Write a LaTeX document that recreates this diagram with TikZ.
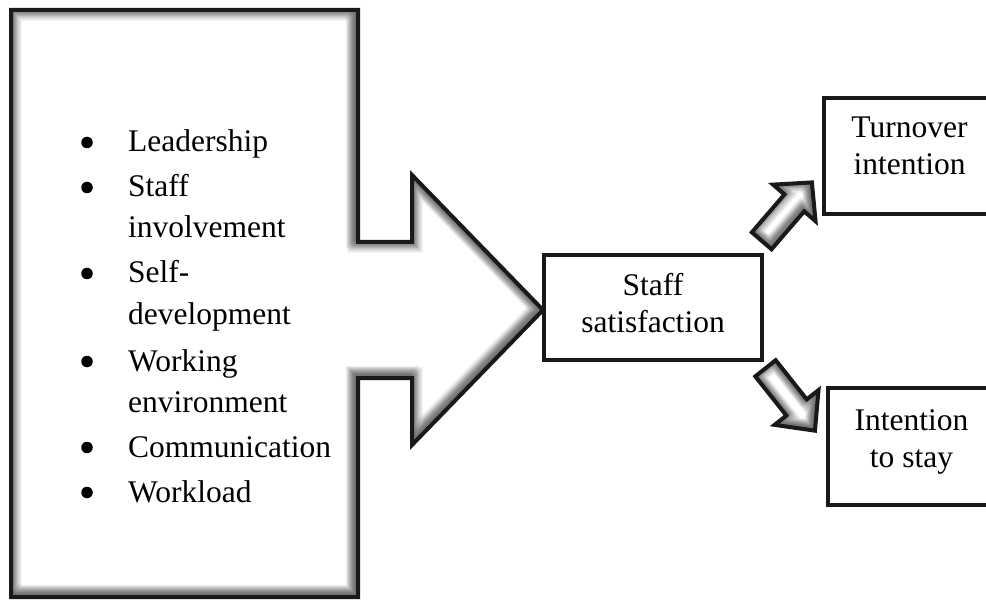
\documentclass[tikz,border=0pt]{standalone}
\usepackage{fontspec}
\setmainfont{Liberation Serif}
\usetikzlibrary{calc}

% Block arrow with a bevelled (inner-shadow) fill.
% #1 tail coordinate, #2 direction angle, #3 total length to the tip
\newcommand\bevelarrow[3]{%
  \path[save path=\arrowpath]
    ($(#1)+(#2+90:13)$) -- ($(#1)+(#2:50)+(#2+90:13)$)
    -- ($(#1)+(#2:50)+(#2+90:28)$) -- ($(#1)+(#2:#3)$)
    -- ($(#1)+(#2:50)+(#2-90:28)$) -- ($(#1)+(#2:50)+(#2-90:13)$)
    -- ($(#1)+(#2-90:13)$) -- cycle;
  \fill[white, use path=\arrowpath];
  \begin{scope}
    \clip[use path=\arrowpath];
    \foreach \w in {4,7,...,19}
      \draw[black, opacity=0.07, line width=\w pt, use path=\arrowpath];
    \begin{scope}[transform canvas={xshift=-3pt,yshift=3pt}]
      \foreach \w in {4,7,...,16}
        \draw[black, opacity=0.07, line width=\w pt, use path=\arrowpath];
    \end{scope}
  \end{scope}
  \draw[edge, use path=\arrowpath];
}

\begin{document}
\begin{tikzpicture}[x=1pt, y=-1pt,
  edge/.style={draw=black!90, line width=4pt, line join=miter},
  box/.style={edge, fill=white, rectangle, inner sep=0pt},
  txt/.style={font=\fontsize{31.5}{37}\selectfont, inner sep=0pt},
  dot/.style={circle, fill=black, inner sep=0pt, minimum size=11.5pt},
]
\useasboundingbox (0,0) rectangle (986,604);

% Factor panel merged with the large arrow
\path[save path=\bigshape]
  (11,10) -- (358,10) -- (358,242) -- (412,242) -- (412,175)
  -- (543,310) -- (412,445) -- (412,378) -- (358,378)
  -- (358,597) -- (11,597) -- cycle;
\fill[white, use path=\bigshape];
\begin{scope}
  \clip[use path=\bigshape];
  \foreach \w in {4,6,...,22}
    \draw[black, opacity=0.045, line width=\w pt, use path=\bigshape];
  \begin{scope}[transform canvas={xshift=-3pt,yshift=3pt}]
    \foreach \w in {4,7,...,19}
      \draw[black, opacity=0.06, line width=\w pt, use path=\bigshape];
  \end{scope}
\end{scope}
\draw[edge, use path=\bigshape];

% Factor list
\foreach \y [count=\i] in {152,197,283,371,457,502}
  \node[dot] (b\i) at (87,\y-9.5) {};
\node[txt, anchor=base west] (f1) at (128,152) {Leadership};
\node[txt, anchor=base west] (f2) at (128,197) {Staff};
\node[txt, anchor=base west] (f2b) at (128,238) {involvement};
\node[txt, anchor=base west] (f3) at (128,283) {Self-};
\node[txt, anchor=base west] (f3b) at (128,325) {development};
\node[txt, anchor=base west] (f4) at (128,371) {Working};
\node[txt, anchor=base west] (f4b) at (128,412) {environment};
\node[txt, anchor=base west] (f5) at (128,457) {Communication};
\node[txt, anchor=base west] (f6) at (128,502) {Workload};

% Outcome boxes
\node[box, minimum width=218pt, minimum height=105pt] (sat) at (652.5,307.5) {};
\node[txt, anchor=base] (satA) at (653,295) {Staff};
\node[txt, anchor=base] (satB) at (653,332) {satisfaction};

\node[box, minimum width=172pt, minimum height=116pt] (turn) at (910,156) {};
\node[txt, anchor=base] (turnA) at (909.5,138) {Turnover};
\node[txt, anchor=base] (turnB) at (909.5,175) {intention};

\node[box, minimum width=168pt, minimum height=117pt] (stay) at (912,446.5) {};
\node[txt, anchor=base] (stayA) at (911.5,430) {Intention};
\node[txt, anchor=base] (stayB) at (911.5,467) {to stay};

% Block arrows from satisfaction to the two outcomes
\coordinate (upTail) at (761.7,240.8);
\coordinate (dnTail) at (765.5,368.3);
\bevelarrow{upTail}{-49.3}{77}
\bevelarrow{dnTail}{51.6}{79.6}
\end{tikzpicture}
\end{document}
